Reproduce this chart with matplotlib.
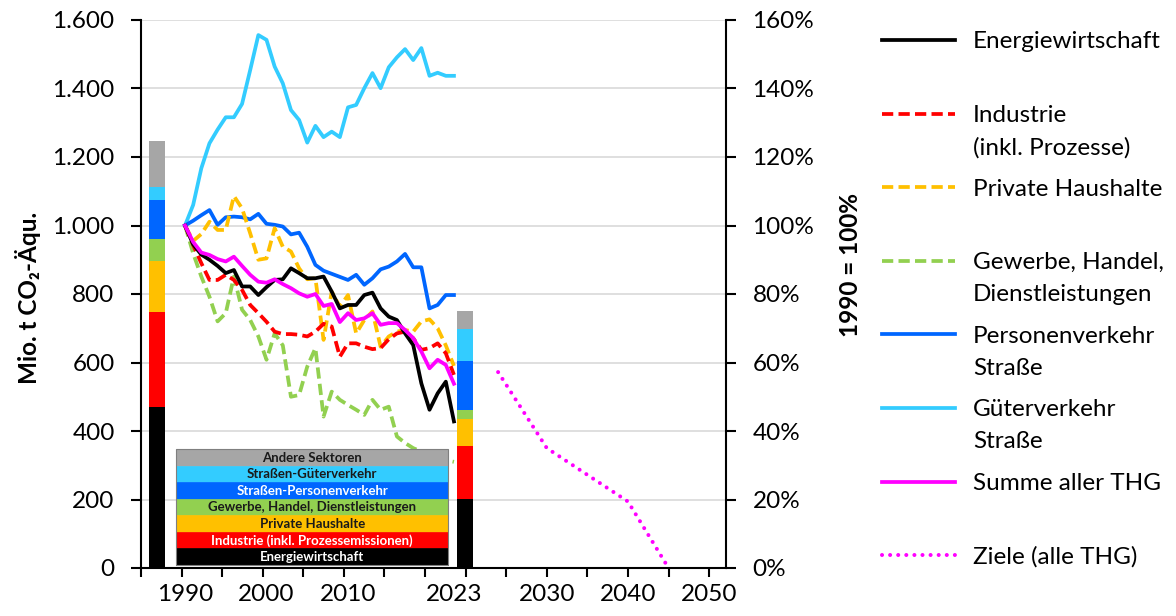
import matplotlib
matplotlib.use('Agg')
import matplotlib.pyplot as plt
from matplotlib.lines import Line2D
from matplotlib.patches import Rectangle
from matplotlib.ticker import FuncFormatter

plt.rcParams['font.family'] = ['Lato', 'DejaVu Sans']

# ---------------------------------------------------------------------------
# Data (1990 = 100 %)
# ---------------------------------------------------------------------------
years = list(range(1990, 2024))

energie = [100, 94.5, 91.5, 90.0, 88.2, 86.1, 87.0, 82.2, 82.2, 79.7,
           82.0, 84.1, 84.3, 87.5, 86.1, 84.6, 84.6, 85.1, 80.7, 75.8,
           76.8, 76.8, 79.7, 80.4, 75.8, 73.4, 72.4, 68.5, 65.1, 53.9,
           46.2, 51.0, 54.4, 42.8]
industrie = [100, 94.3, 89.0, 84.1, 84.1, 85.6, 84.1, 81.2, 76.8, 74.4,
             71.9, 69.0, 68.3, 68.3, 68.1, 67.6, 69.0, 71.3, 70.5, 61.7,
             65.6, 65.6, 64.6, 63.9, 64.2, 66.8, 68.5, 69.0, 67.1, 63.7,
             64.2, 65.6, 62.7, 56.4]
haushalte = [100, 95.5, 97.5, 101.1, 98.7, 98.7, 108.6, 105.0, 97.7, 90.0,
             90.4, 99.2, 93.8, 92.4, 87.5, 84.3, 84.6, 66.6, 80.7, 76.3,
             79.7, 68.5, 72.4, 74.9, 64.6, 67.6, 69.0, 69.5, 69.0, 72.0,
             72.6, 70.0, 65.0, 59.0]
gewerbe = [100, 91.9, 85.1, 79.2, 72.0, 74.4, 85.1, 75.4, 72.4, 67.6,
           60.8, 68.5, 65.0, 50.0, 50.5, 58.8, 64.2, 44.2, 51.5, 49.1,
           47.6, 46.2, 44.7, 49.1, 46.2, 47.1, 38.4, 36.5, 35.0, 34.0,
           33.5, 32.5, 31.5, 31.0]
personen = [100, 101.4, 103.0, 104.5, 100.2, 102.4, 102.6, 102.4, 101.8, 103.4,
            100.5, 100.2, 99.7, 97.4, 97.9, 93.8, 88.5, 86.8, 85.9, 85.0,
            84.1, 85.6, 82.7, 84.6, 87.2, 88.0, 89.5, 91.7, 87.8, 87.8,
            75.8, 76.8, 79.7, 79.7]
gueter = [100, 106.0, 116.7, 124.0, 128.0, 131.6, 131.6, 135.5, 145.4, 155.6,
          154.2, 146.4, 141.5, 133.7, 130.8, 124.2, 129.1, 125.8, 127.4, 125.8,
          134.5, 135.2, 140.1, 144.5, 140.1, 146.2, 149.1, 151.5, 148.3, 151.8,
          143.7, 144.6, 143.7, 143.7]
summe = [100, 95.2, 92.1, 91.4, 90.2, 89.5, 90.9, 88.2, 85.6, 83.6,
         83.3, 84.3, 82.9, 81.7, 80.2, 79.2, 80.0, 76.5, 77.1, 71.8,
         74.4, 72.4, 72.9, 74.4, 71.0, 71.5, 71.5, 69.5, 67.1, 63.2,
         58.3, 60.8, 59.3, 53.8]

ziele_jahre = [2024, 2030, 2040, 2045]
ziele = [57.2, 35.0, 19.4, 0.0]

# stacked bars (Mio. t CO2-Äqu.), bottom -> top
sektoren = ['Energiewirtschaft', 'Industrie (inkl. Prozessemissionen)',
            'Private Haushalte', 'Gewerbe, Handel, Dienstleistungen',
            'Straßen-Personenverkehr', 'Straßen-Güterverkehr', 'Andere Sektoren']
bar_1990 = [471, 277, 147, 65, 113, 39, 136]
bar_2023 = [201, 156, 79, 24, 144, 93, 53]

# ---------------------------------------------------------------------------
# Style
# ---------------------------------------------------------------------------
C = dict(
    energie='#000000', industrie='#FF0000', haushalte='#FFC000',
    gewerbe='#92D050', personen='#0066FF', gueter='#33CCFF',
    andere='#A6A6A6', summe='#FF00FF', grid='#D9D9D9',
)
sektor_farben = [C['energie'], C['industrie'], C['haushalte'], C['gewerbe'],
                 C['personen'], C['gueter'], C['andere']]
sektor_text = ['white', 'white', '#1a1a1a', '#1a1a1a', 'white', '#1a1a1a', '#1a1a1a']

DASH = (0, (3.0, 1.4))
DOT = (0, (0.01, 2.0))
LW = 2.7
FS = 17.5

W, H = 1176, 616
fig = plt.figure(figsize=(W / 100, H / 100), dpi=100)
ax = fig.add_axes([141 / W, 48 / H, 585 / W, 548 / H])
axp = ax.twinx()
axt = axp.twiny()

# --- bars (left axis) -------------------------------------------------------
bar_x = [1986.6, 2024.4]
cum = [0, 0]
for i, col in enumerate(sektor_farben):
    vals = [bar_1990[i], bar_2023[i]]
    ax.bar(bar_x, vals, bottom=cum, width=1.96, color=col, linewidth=0)
    cum = [cum[0] + vals[0], cum[1] + vals[1]]

ax.set_xlim(1984.60, 2056.38)
ax.set_ylim(0, 1600)
ax.set_yticks(range(0, 1601, 200))
ax.yaxis.set_major_formatter(FuncFormatter(lambda v, p: f'{v:,.0f}'.replace(',', '.')))
ax.grid(axis='y', color=C['grid'], linewidth=1.2)
ax.set_axisbelow(True)
ax.tick_params(axis='y', direction='out', length=7, width=1.5, pad=12, labelsize=FS)
ax.set_xticks([1990, 2000, 2010, 2023])
ax.set_xticklabels(['1990', '2000', '2010', '2023'])
ax.tick_params(axis='x', length=0, pad=6.5 + 5, labelsize=FS)
for s in ('top', 'right'):
    ax.spines[s].set_visible(False)
for s in ('left', 'bottom'):
    ax.spines[s].set_linewidth(1.5)

# --- historic lines (right axis, %) ----------------------------------------
lines = [
    (gueter, C['gueter'], '-'),
    (personen, C['personen'], '-'),
    (gewerbe, C['gewerbe'], DASH),
    (haushalte, C['haushalte'], DASH),
    (industrie, C['industrie'], DASH),
    (energie, C['energie'], '-'),
    (summe, C['summe'], '-'),
]
for vals, col, ls in lines:
    axp.plot(years, vals, color=col, linestyle=ls, linewidth=LW,
             solid_joinstyle='round')
axp.set_ylim(0, 160)
axp.set_yticks(range(0, 161, 20))
axp.yaxis.set_major_formatter(FuncFormatter(lambda v, p: f'{v:.0f}%'))
axp.tick_params(axis='y', direction='out', length=7, width=1.5, pad=12, labelsize=FS)
for s in ('top', 'left', 'bottom'):
    axp.spines[s].set_visible(False)
axp.spines['right'].set_linewidth(1.5)

# --- targets and 5-year tick marks (secondary x axis) ----------------------
axt.plot(ziele_jahre, ziele, color=C['summe'], linestyle=DOT, linewidth=2.9,
         dash_capstyle='round', clip_on=False)
axt.set_xlim(1980.04, 2052.08)
axt.xaxis.set_ticks_position('bottom')
axt.xaxis.set_label_position('bottom')
ticks5 = list(range(1980, 2051, 5))
axt.set_xticks(ticks5)
axt.set_xticklabels([str(t) if t in (2030, 2040, 2050) else '' for t in ticks5])
axt.tick_params(axis='x', direction='out', length=6.5, width=1.5, pad=5, labelsize=FS)
for s in axt.spines.values():
    s.set_visible(False)

# --- inner sector legend (table) --------------------------------------------
box = [0.0598, 0.0055, 0.4655, 0.2111]
tbl = axt.table(cellText=[[s] for s in sektoren[::-1]],
                cellColours=[[c] for c in sektor_farben[::-1]],
                cellLoc='center', bbox=box)
tbl.auto_set_font_size(False)
tbl.set_fontsize(9.5)
tbl.set_zorder(10)
for (r, c), cell in tbl.get_celld().items():
    cell.set_edgecolor(cell.get_facecolor())
    cell.set_linewidth(0.5)
    t = cell.get_text()
    t.set_fontweight('bold')
    t.set_color(sektor_text[::-1][r])
axt.add_patch(Rectangle((box[0], box[1]), box[2], box[3], transform=axt.transAxes,
                        fill=False, edgecolor='#7F7F7F', linewidth=0.8, zorder=11,
                        clip_on=False))

# --- axis titles -------------------------------------------------------------
fig.text(28 / W, 1 - 298 / H, 'Mio. t CO₂-Äqu.', rotation=90, ha='center',
         va='center', fontsize=FS, fontweight='bold')
fig.text(850 / W, 1 - 265 / H, '1990 = 100%', rotation=90, ha='center',
         va='center', fontsize=FS, fontweight='bold')

# --- right-hand legend --------------------------------------------------------
legend = [
    (['Energiewirtschaft'], C['energie'], '-'),
    (['Industrie', '(inkl. Prozesse)'], C['industrie'], DASH),
    (['Private Haushalte'], C['haushalte'], DASH),
    (['Gewerbe, Handel,', 'Dienstleistungen'], C['gewerbe'], DASH),
    (['Personenverkehr', 'Straße'], C['personen'], '-'),
    (['Güterverkehr', 'Straße'], C['gueter'], '-'),
    (['Summe aller THG'], C['summe'], '-'),
    (['Ziele (alle THG)'], C['summe'], DOT),
]
y0, step, line_h = 40, 73.6, 32
for i, (text, col, ls) in enumerate(legend):
    y = y0 + i * step
    lw = 2.9 if ls == DOT else LW
    fig.add_artist(Line2D([882 / W, 955 / W], [1 - y / H, 1 - y / H], color=col,
                          linestyle=ls, linewidth=lw, dash_capstyle='round'
                          if ls == DOT else 'butt'))
    for j, part in enumerate(text):
        fig.text(973 / W, 1 - (y + j * line_h) / H, part, ha='left',
                 va='center_baseline', fontsize=FS)

fig.savefig('out.png', dpi=100)
